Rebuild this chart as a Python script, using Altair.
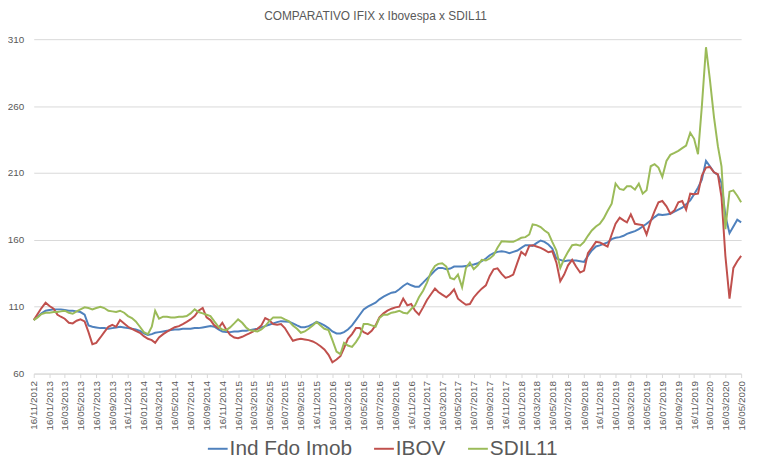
import pandas as pd
import altair as alt

# semi-monthly sampling (1st and 16th)
dates = pd.date_range("2012-11-16", "2020-05-16", freq="SMS-16").strftime("%Y-%m-%d").tolist()

ifix = [
    100, 102.5, 105, 107, 107.5, 108, 108, 108, 107.5, 107,
    107, 106.5, 106, 104, 96, 95, 94.5, 94, 94, 93.5,
    94, 94.5, 95, 94.5, 94, 93.5, 93, 92, 90, 88.8,
    89.5, 90.5, 91, 91.5, 92, 92.5, 93, 93, 93.5, 93.5,
    93.5, 94, 94, 94.5, 95, 95.5, 95, 93, 91.5, 91,
    91, 91.5, 91.5, 92, 92, 92.5, 93, 93.5, 94.5, 95.5,
    96.5, 97.5, 98.5, 99.2, 99, 98.7, 97.5, 96, 94.7, 94.7,
    95.5, 97, 98.7, 97.5, 96, 94, 91.5, 90, 90, 91,
    93, 96, 100, 104, 108, 110, 111.5, 113, 115.5, 117.5,
    119, 120.5, 121, 123, 125.5, 127.5, 126, 125, 125, 128,
    131, 134, 137, 139, 139, 138, 138.5, 140, 140, 140,
    140.5, 141, 141.5, 142.5, 144, 146, 148.5, 150, 151, 151.5,
    151, 150, 151, 152, 154, 156, 156, 155.5, 157.5, 159.5,
    158.5, 156.5, 153.5, 146, 145, 144, 144.5, 144.5, 144.5, 144,
    143.5, 148, 152, 155, 155.8, 157, 158, 160.5, 161.5, 162,
    163, 164.5, 165.5, 166.5, 168, 170, 172, 174.5, 177, 179,
    178.5, 179, 179.5, 181, 182.5, 184, 186.5, 189.5, 194, 199,
    205, 219, 215, 210.5, 208.5, 202.5, 178, 165, 170, 175,
    173,
]

ibov = [
    100, 104.5, 109, 113, 110.5, 108.5, 104, 102.5, 101, 98,
    97.5, 99.5, 100.5, 99, 91, 82, 83, 87, 91, 95,
    96.5, 95, 100, 97.5, 95, 93.5, 92, 90.5, 88, 86,
    85, 83, 87, 89.5, 91.3, 93, 94.7, 95.5, 97, 98.7,
    100.5, 103, 107, 109, 102, 100, 96, 94, 98, 93,
    89, 87, 86.5, 87.5, 89, 90, 91.5, 93.5, 96, 101.5,
    100, 97, 96.5, 97, 94, 89, 84.5, 85.5, 86, 85.5,
    85, 84, 82.5, 80.5, 78, 74, 68.5, 70.5, 73, 79,
    86, 89.5, 94, 94, 91, 89.5, 92, 96, 102, 105,
    107, 108.5, 109.5, 110, 116, 111, 112, 107, 104, 109.5,
    115, 119.5, 123.5, 121, 119, 117, 119.5, 123, 116, 113.5,
    111.5, 112, 116.9, 120.5, 123.5, 126, 133, 138, 138.7, 134.5,
    131.5, 132.5, 134, 143, 151, 148.5, 155.5, 156, 155, 154,
    152.5, 150.7, 151.5, 143, 129, 134, 140.9, 145, 140, 135.5,
    137, 150, 154, 158.5, 158, 156.5, 155, 164, 172, 176.5,
    174.5, 173, 179, 172, 171.5, 171, 164, 174, 181.5, 188,
    189, 185, 179.5, 182, 188, 189, 182.5, 194.5, 194, 194.5,
    208, 214, 214.5, 210.5, 209, 192, 148, 116, 139, 144,
    148,
]

sdil11 = [
    100, 102, 104.5, 105.5, 105.5, 106, 106, 106.5, 107, 105.5,
    104.7, 106.5, 108, 109.5, 109, 108, 109, 110, 109, 107,
    106.5, 106, 107, 105.5, 103, 101.5, 99, 95, 91, 89.5,
    95, 107, 101, 102.5, 102.5, 102, 102, 102.5, 102.5, 103,
    105, 108, 106, 105, 104, 103, 99, 95, 93, 92.5,
    94.5, 97.5, 100.5, 98, 94.5, 92.5, 92, 91.5, 93, 95.5,
    99, 102, 102, 102, 100.5, 99, 96, 93.5, 90.5, 91.5,
    93.5, 96, 98.5, 96, 93.5, 92.5, 85, 76.5, 74.5, 83,
    81, 80, 83.5, 88, 97, 97, 96, 95, 101.5, 104,
    104, 105.5, 106, 107, 105.5, 105, 108.3, 111, 117, 122,
    128, 136, 140.5, 142, 142.5, 140, 131.5, 130.5, 134, 124.5,
    139, 143, 138, 141, 145, 144.5, 146, 148.5, 154, 159,
    158.8, 158.5, 158.5, 160, 161.5, 162, 164, 171.5, 171, 169.5,
    167, 165, 158.5, 152, 139, 145.8, 151, 156, 156.5, 155.6,
    158.5, 163, 167, 170, 172, 176, 181.5, 187, 202, 198,
    197.3, 200, 200, 197.5, 202, 194.5, 197, 215, 216.5, 214,
    207, 219, 223.5, 225, 226.5, 228.5, 230.5, 240, 235.5, 224,
    260, 304, 280, 251.6, 230, 215, 168, 196, 197, 193,
    188,
]

series_names = ["Ind Fdo Imob", "IBOV", "SDIL11"]
series_colors = ["#4F81BD", "#C0504D", "#9BBB59"]
y_ticks = [60, 110, 160, 210, 260, 310]

rows = []
for name, vals in zip(series_names, [ifix, ibov, sdil11]):
    for d, v in zip(dates, vals):
        rows.append({"data": d, "serie": name, "valor": v})
df = pd.DataFrame(rows)

# axis labels every 2 months on the 16th
tick_days = pd.date_range("2012-11-16", "2020-05-16", freq=pd.DateOffset(months=2))
tick_dates = [alt.DateTime(year=d.year, month=d.month, date=d.day, utc=True) for d in tick_days]

grey = "#595959"

chart = (
    alt.Chart(df)
    .mark_line(strokeWidth=2)
    .encode(
        x=alt.X(
            "data:T",
            title=None,
            scale=alt.Scale(type="utc", domain=[tick_dates[0], tick_dates[-1]]),
            axis=alt.Axis(
                values=tick_dates,
                format="%d/%m/%Y",
                labelAngle=270,
                labelFontSize=10,
                labelColor=grey,
                labelOverlap=False,
                labelFlush=False,
                labelPadding=3,
                grid=False,
                domainColor="#d9d9d9",
                tickColor="#d9d9d9",
                tickSize=4,
            ),
        ),
        y=alt.Y(
            "valor:Q",
            title=None,
            scale=alt.Scale(domain=[60, 310], nice=False, zero=False),
            axis=alt.Axis(
                values=y_ticks,
                domain=False,
                ticks=False,
                labelPadding=10,
                labelFontSize=10,
                labelColor=grey,
                gridColor="#d9d9d9",
            ),
        ),
        color=alt.Color(
            "serie:N",
            scale=alt.Scale(domain=series_names, range=series_colors),
            legend=alt.Legend(
                title=None,
                orient="none",
                legendX=175,
                legendY=403,
                direction="horizontal",
                symbolType="stroke",
                symbolSize=400,
                symbolStrokeWidth=2,
                labelFontSize=21,
                labelColor=grey,
                labelOffset=1,
                columnPadding=18,
                padding=0,
            ),
        ),
    )
    .properties(
        width=715,
        height=338,
        autosize="none",
        padding={"left": 26, "top": 29, "right": 13, "bottom": 100},
        title=alt.TitleParams(
            text="COMPARATIVO IFIX x Ibovespa x SDIL11",
            fontSize=12,
            fontWeight="normal",
            color=grey,
            anchor="middle",
            dx=-12,
            offset=11,
        ),
        background="#ffffff",
    )
    .configure(font="Liberation Sans")
    .configure_view(strokeWidth=0)
)

chart.save("out.html", embed_options={"renderer": "svg", "actions": False})
